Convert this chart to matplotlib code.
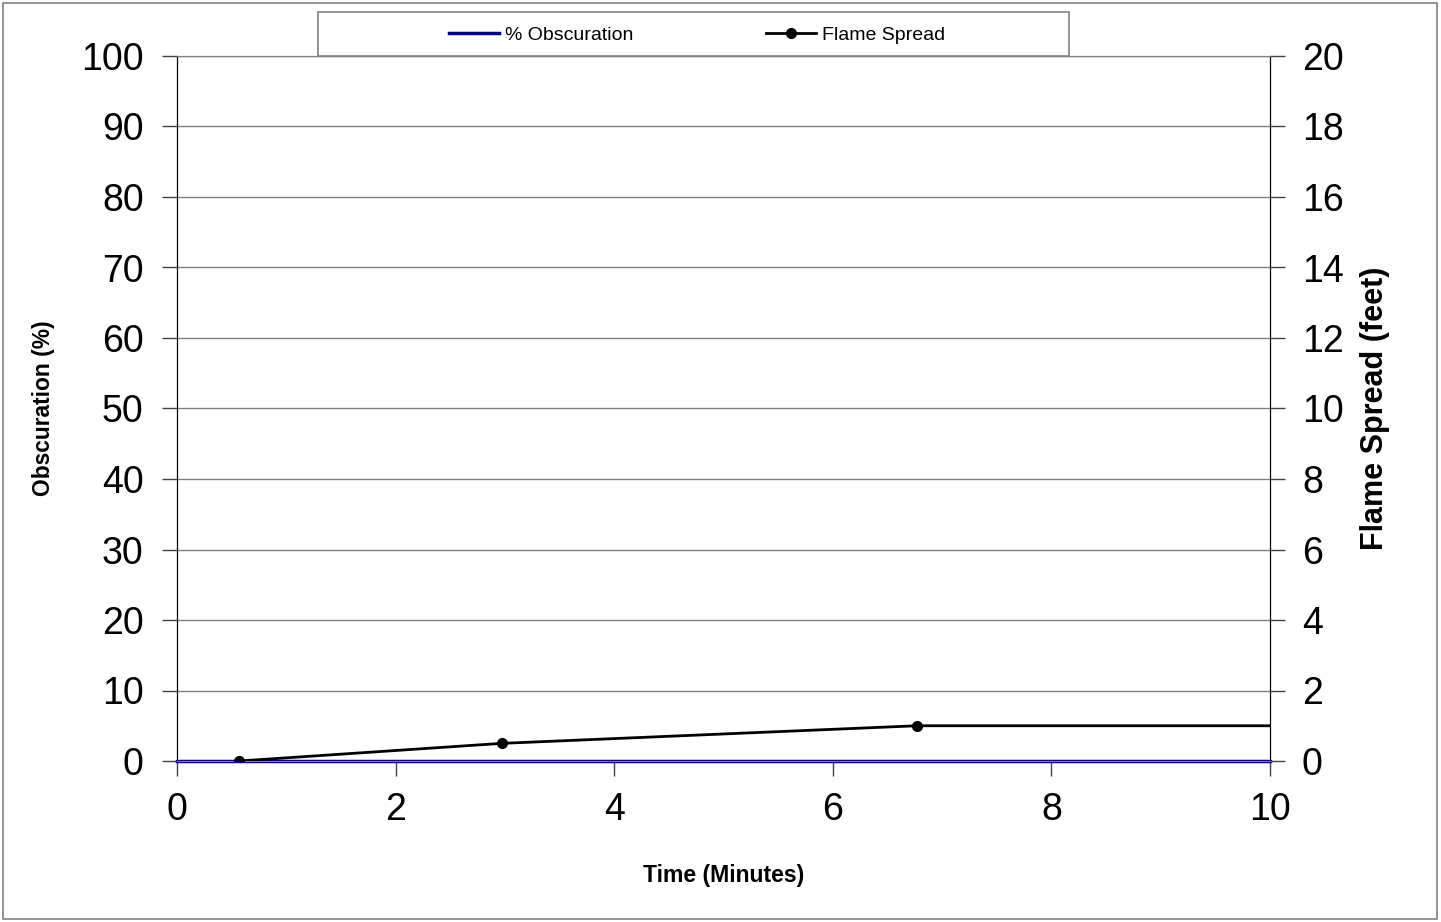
import numpy as np
import matplotlib.pyplot as plt
from matplotlib.patches import Rectangle
from matplotlib.lines import Line2D

plt.rcParams['font.family'] = ['Liberation Sans', 'DejaVu Sans']

# data
obsc_time = [0, 10]
obsc_pct = [0, 0]
flame_time = [0.57, 2.97, 6.77, 10.0]
flame_ft = [0, 0.5, 1.0, 1.0]

x_ticks = [0, 2, 4, 6, 8, 10]
left_ticks = list(range(0, 101, 10))
right_ticks = list(range(0, 21, 2))

fig = plt.figure(figsize=(14.41, 9.22), dpi=100)
ax = fig.add_axes([177/1441, 1 - 761/922, (1270-177)/1441, (761-56)/922])
ax2 = ax.twinx()

# outer frame
fig.patches.append(Rectangle((3/1441, 3/922), 1434/1441, 916/922, transform=fig.transFigure,
                             fill=False, edgecolor='#808080', lw=1.2))

ax.set_xlim(0, 10)
ax.set_ylim(0, 100)
ax2.set_ylim(0, 20)

for y in left_ticks[1:]:
    ax.axhline(y, color='#808080', lw=1, zorder=0)

ax.plot(obsc_time, obsc_pct, color='#000080', lw=2.5, zorder=3, clip_on=False)
ax2.plot(flame_time, flame_ft, color='black', lw=2, marker='o', markersize=7,
         markevery=[0, 1, 2], zorder=3)

ax.set_xticks(x_ticks)
ax.set_yticks(left_ticks)
ax2.set_yticks(right_ticks)
ax.tick_params(axis='x', labelsize=27, length=11, width=1, color='#404040', pad=11)
ax.tick_params(axis='y', labelsize=27, length=11, width=1, color='#404040', pad=13)
ax2.tick_params(axis='y', labelsize=27, length=11, width=1, color='#404040', pad=12)

for a in (ax, ax2):
    a.spines['top'].set_color('#808080')
    a.spines['left'].set_color('black')
    a.spines['right'].set_color('black')
    a.spines['bottom'].set_color('#808080')

ax.set_xlabel('Time (Minutes)', fontsize=16.6, fontweight='bold', labelpad=26)
ax.set_ylabel('Obscuration (%)', fontsize=16.4, fontweight='bold', labelpad=19)
ax2.set_ylabel('Flame Spread (feet)', fontsize=22, fontweight='bold', labelpad=12)

# legend box
fig.patches.append(Rectangle((318/1441, 1 - 56/922), 751/1441, 44/922, transform=fig.transFigure,
                             fill=True, facecolor='white', edgecolor='#808080', lw=1.2))
handles = [Line2D([], [], color='#000080', lw=2.5),
           Line2D([], [], color='black', lw=2, marker='o', markersize=7)]
fig.legend(handles, ['% Obscuration', 'Flame Spread'], loc='center',
           bbox_to_anchor=(697/1441, 1 - 35/922), ncol=2, frameon=False,
           fontsize=14, handlelength=2.6, handletextpad=0.3, columnspacing=6.8)

fig.savefig('out.png', dpi=100)
